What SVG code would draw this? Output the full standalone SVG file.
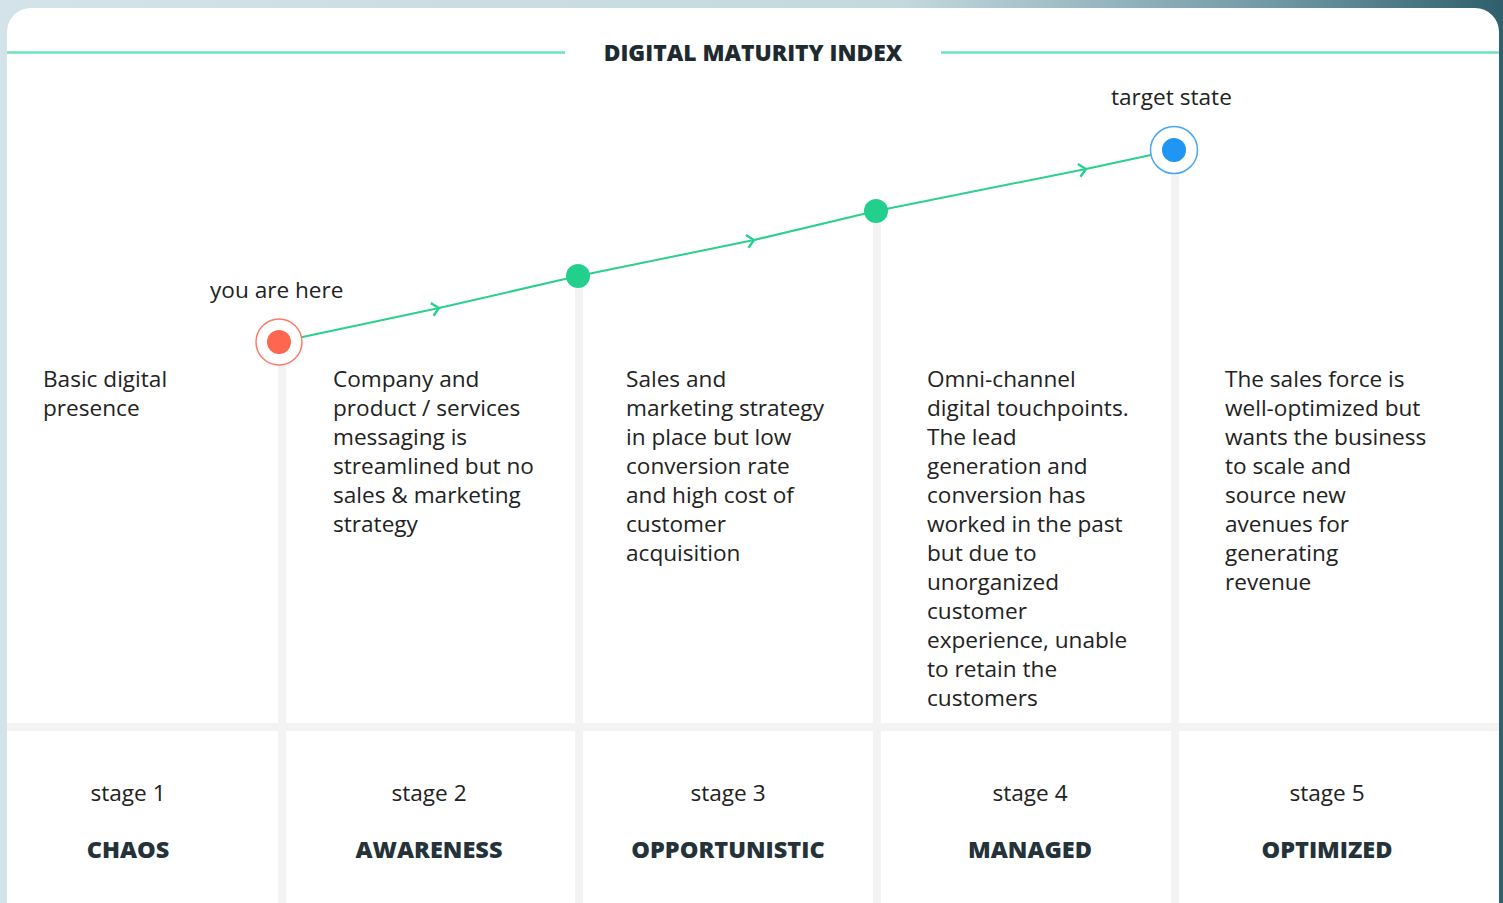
<svg xmlns="http://www.w3.org/2000/svg" width="1503" height="903" viewBox="0 0 1503 903">
<defs>
<linearGradient id="bg" x1="0" y1="0" x2="1" y2="0">
<stop offset="0" stop-color="#d3e3e9"/>
<stop offset="0.6" stop-color="#c4d8de"/>
<stop offset="0.85" stop-color="#6f98a4"/>
<stop offset="1" stop-color="#2f5f6c"/>
</linearGradient>
<marker id="chev" viewBox="0 0 16 16" refX="11" refY="8" markerWidth="16" markerHeight="16" markerUnits="userSpaceOnUse" orient="auto">
<path d="M4,1.5 L11,8 L4,14.5" fill="none" stroke="#2bd08f" stroke-width="2.4"/>
</marker>
<style>
.body{font-family:"Open Sans","Liberation Sans",sans-serif;font-size:22.6px;fill:#222;}
.stg{font-family:"Open Sans","Liberation Sans",sans-serif;font-size:22.6px;fill:#222;text-anchor:middle;}
.name{font-family:"Open Sans","Liberation Sans",sans-serif;font-size:23.5px;font-weight:800;fill:#24323a;text-anchor:middle;}
.title{font-family:"Open Sans","Liberation Sans",sans-serif;font-size:22.8px;font-weight:800;fill:#1e2a30;text-anchor:middle;}
.sep{fill:#f3f3f3;}
.conn{stroke:#2bd08f;stroke-width:2;fill:none;}
</style>
</defs>
<rect x="0" y="0" width="1503" height="903" fill="url(#bg)"/>
<rect x="7" y="8" width="1492" height="920" rx="24" fill="#ffffff"/>
<g id="header">
<line x1="7" y1="52.5" x2="565" y2="52.5" stroke="#6fe2bb" stroke-width="2.5"/>
<line x1="941" y1="52.5" x2="1499" y2="52.5" stroke="#6fe2bb" stroke-width="2.5"/>
<text class="title" x="753" y="61">DIGITAL MATURITY INDEX</text>
</g>
<g id="grid">
<rect class="sep" x="7" y="723" width="1492" height="8"/>
<rect class="sep" x="278" y="342" width="8" height="561"/>
<rect class="sep" x="575" y="276" width="8" height="627"/>
<rect class="sep" x="873" y="211" width="8" height="692"/>
<rect class="sep" x="1171" y="150" width="8" height="753"/>
</g>
<g id="connectors">
<path class="conn" d="M279,342 L439,308" marker-end="url(#chev)"/>
<path class="conn" d="M439,308 L578,276"/>
<path class="conn" d="M578,276 L754,240" marker-end="url(#chev)"/>
<path class="conn" d="M754,240 L876,211"/>
<path class="conn" d="M876,211 L1086,169" marker-end="url(#chev)"/>
<path class="conn" d="M1086,169 L1174,150"/>
</g>
<g id="stage1">
<text class="body" x="210" y="298">you are here</text>
<circle cx="279" cy="342" r="23" fill="#fff" stroke="#ff7b68" stroke-width="1.5"/>
<circle cx="279" cy="342" r="12" fill="#ff6650"/>
<text class="body" x="43" y="387">Basic digital</text>
<text class="body" x="43" y="416">presence</text>
<text class="stg" x="128" y="801">stage 1</text>
<text class="name" x="128" y="858">CHAOS</text>
</g>
<g id="stage2">
<circle cx="578" cy="276" r="12" fill="#22cf8d"/>
<text class="body" x="333" y="387">Company and</text>
<text class="body" x="333" y="416">product / services</text>
<text class="body" x="333" y="445">messaging is</text>
<text class="body" x="333" y="474">streamlined but no</text>
<text class="body" x="333" y="503">sales &amp; marketing</text>
<text class="body" x="333" y="532">strategy</text>
<text class="stg" x="429" y="801">stage 2</text>
<text class="name" x="429" y="858">AWARENESS</text>
</g>
<g id="stage3">
<circle cx="876" cy="211" r="12" fill="#22cf8d"/>
<text class="body" x="626" y="387">Sales and</text>
<text class="body" x="626" y="416">marketing strategy</text>
<text class="body" x="626" y="445">in place but low</text>
<text class="body" x="626" y="474">conversion rate</text>
<text class="body" x="626" y="503">and high cost of</text>
<text class="body" x="626" y="532">customer</text>
<text class="body" x="626" y="561">acquisition</text>
<text class="stg" x="728" y="801">stage 3</text>
<text class="name" x="728" y="858">OPPORTUNISTIC</text>
</g>
<g id="stage4">
<text class="body" x="927" y="387">Omni-channel</text>
<text class="body" x="927" y="416">digital touchpoints.</text>
<text class="body" x="927" y="445">The lead</text>
<text class="body" x="927" y="474">generation and</text>
<text class="body" x="927" y="503">conversion has</text>
<text class="body" x="927" y="532">worked in the past</text>
<text class="body" x="927" y="561">but due to</text>
<text class="body" x="927" y="590">unorganized</text>
<text class="body" x="927" y="619">customer</text>
<text class="body" x="927" y="648">experience, unable</text>
<text class="body" x="927" y="677">to retain the</text>
<text class="body" x="927" y="706">customers</text>
<text class="stg" x="1030" y="801">stage 4</text>
<text class="name" x="1030" y="858">MANAGED</text>
</g>
<g id="stage5">
<text class="body" x="1111" y="105">target state</text>
<circle cx="1174" cy="150" r="23.5" fill="#fff" stroke="#4aa6f2" stroke-width="1.5"/>
<circle cx="1174" cy="150" r="12" fill="#1f96f3"/>
<text class="body" x="1225" y="387">The sales force is</text>
<text class="body" x="1225" y="416">well-optimized but</text>
<text class="body" x="1225" y="445">wants the business</text>
<text class="body" x="1225" y="474">to scale and</text>
<text class="body" x="1225" y="503">source new</text>
<text class="body" x="1225" y="532">avenues for</text>
<text class="body" x="1225" y="561">generating</text>
<text class="body" x="1225" y="590">revenue</text>
<text class="stg" x="1327" y="801">stage 5</text>
<text class="name" x="1327" y="858">OPTIMIZED</text>
</g>
</svg>
